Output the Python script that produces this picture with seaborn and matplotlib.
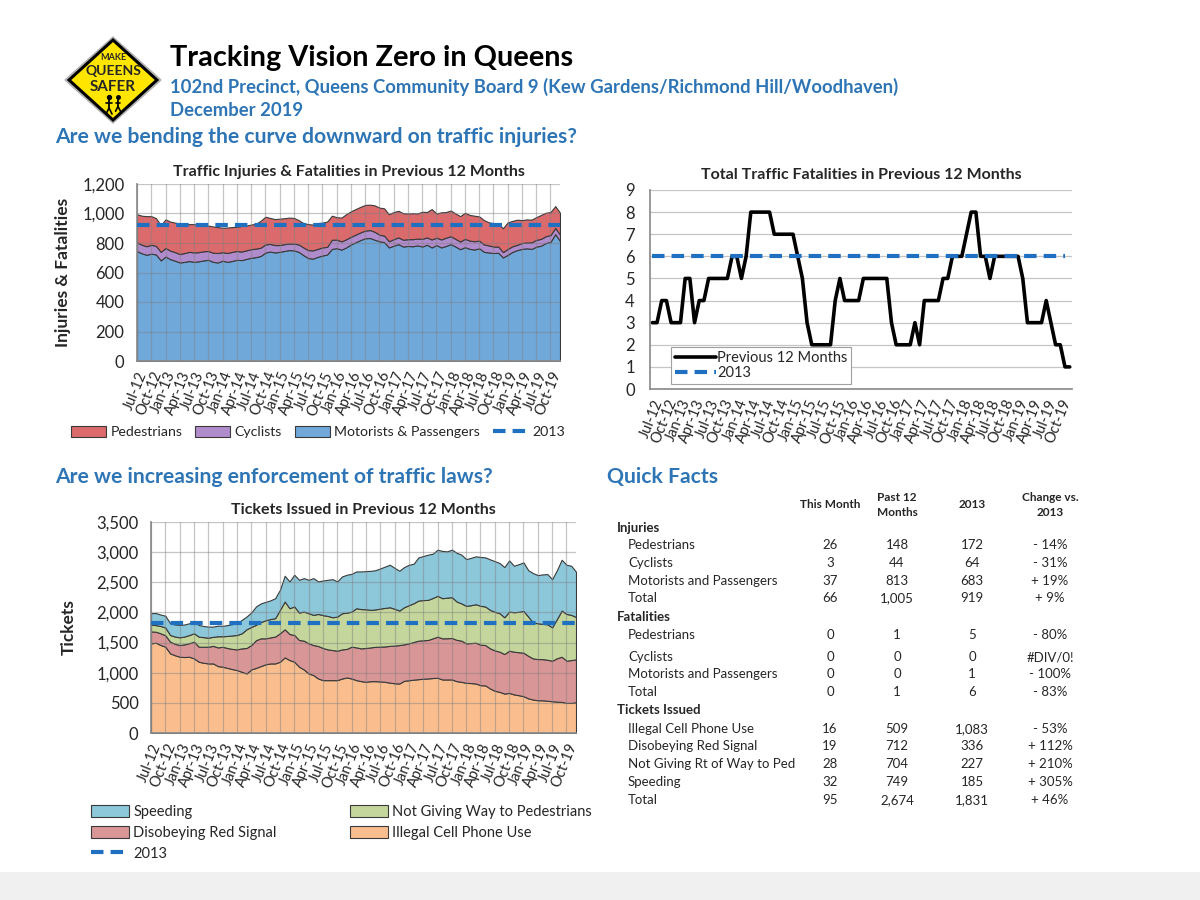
import numpy as np
import pandas as pd
import matplotlib
matplotlib.use("Agg")
import matplotlib.pyplot as plt
import seaborn as sns
from matplotlib.patches import Patch, Polygon, Rectangle
from matplotlib.lines import Line2D
from matplotlib.ticker import FuncFormatter

# -------------------------------
# Data (monthly, Jul-12 .. Dec-19, rolling 12 months)
# -------------------------------
months = pd.date_range("2012-07-01", periods=90, freq="MS").strftime("%b-%y").tolist()

motorists = [745, 730, 720, 728, 722, 682, 708, 690, 680, 668, 672, 678,
             672, 676, 682, 686, 672, 668, 680, 672, 678, 686, 684, 692,
             700, 704, 712, 735, 742, 736, 740, 746, 752, 750, 740, 718,
             698, 694, 706, 715, 722, 760, 765, 755, 770, 790, 805, 820,
             832, 834, 822, 812, 806, 770, 782, 792, 776, 780, 778, 784,
             776, 788, 770, 786, 770, 780, 792, 776, 758, 772, 760, 756,
             764, 740, 736, 732, 734, 702, 720, 740, 752, 760, 764, 760,
             775, 782, 800, 808, 860, 813]
cyclists = [60, 58, 58, 60, 58, 58, 58, 58, 58, 57, 60, 62,
            64, 62, 62, 60, 62, 64, 58, 60, 62, 60, 58, 58,
            58, 58, 56, 55, 52, 50, 46, 46, 45, 46, 50, 52,
            54, 56, 54, 55, 52, 62, 58, 56, 55, 52, 52, 52,
            52, 54, 54, 44, 44, 42, 44, 46, 46, 46, 48, 46,
            52, 50, 54, 50, 54, 56, 54, 52, 52, 56, 56, 56,
            52, 50, 48, 44, 42, 36, 40, 38, 36, 40, 40, 44,
            46, 46, 46, 46, 42, 44]
pedestrians = [190, 197, 204, 194, 188, 180, 194, 197, 200, 207, 193, 188,
               192, 182, 171, 172, 178, 176, 165, 173, 168, 164, 173, 168,
               167, 168, 182, 188, 176, 176, 179, 176, 175, 174, 165, 165,
               176, 175, 175, 168, 171, 163, 152, 161, 170, 173, 173, 173,
               174, 172, 179, 184, 185, 183, 184, 180, 180, 174, 176, 170,
               184, 172, 206, 164, 184, 174, 174, 172, 172, 177, 174, 173,
               164, 165, 156, 159, 154, 162, 180, 172, 170, 155, 156, 154,
               154, 162, 159, 156, 148, 148]
injuries_2013 = 919

fatalities = [3, 3, 4, 4, 3, 3, 3, 5, 5, 3,
              4, 4, 5, 5, 5, 5, 5, 6, 6, 5,
              6, 8, 8, 8, 8, 8, 7, 7, 7, 7,
              7, 6, 5, 3, 2, 2, 2, 2, 2, 4,
              5, 4, 4, 4, 4, 5, 5, 5, 5, 5,
              5, 3, 2, 2, 2, 2, 3, 2, 4, 4,
              4, 4, 5, 5, 6, 6, 6, 7, 8, 8,
              6, 6, 5, 6, 6, 6, 6, 6, 6, 5,
              3, 3, 3, 3, 4, 3, 2, 2, 1, 1]
fatalities_2013 = 6

cell_phone = [1487, 1498, 1459, 1432, 1321, 1290, 1265, 1260, 1265, 1237,
              1182, 1165, 1154, 1154, 1110, 1099, 1080, 1060, 1043, 1015,
              988, 1054, 1080, 1110, 1140, 1154, 1154, 1182, 1254, 1210,
              1182, 1099, 1054, 988, 960, 904, 877, 877, 877, 877,
              904, 921, 904, 877, 860, 850, 860, 860, 855, 849,
              835, 825, 821, 866, 875, 885, 893, 900, 905, 912,
              916, 888, 888, 888, 860, 849, 832, 828, 821, 793,
              790, 738, 700, 682, 654, 665, 640, 627, 610, 575,
              555, 543, 543, 535, 527, 520, 516, 499, 499, 509]
red_signal = [198, 182, 195, 188, 194, 190, 194, 210, 225, 278,
              250, 265, 278, 291, 310, 331, 330, 335, 344, 389,
              422, 406, 460, 460, 430, 431, 446, 472, 466, 432,
              444, 444, 478, 499, 499, 539, 533, 510, 499, 488,
              483, 474, 528, 543, 544, 560, 560, 570, 577, 587,
              610, 625, 638, 604, 612, 625, 639, 638, 638, 658,
              682, 682, 684, 688, 685, 683, 655, 664, 677, 672,
              669, 666, 670, 667, 656, 700, 709, 713, 722, 705,
              682, 683, 683, 680, 672, 720, 749, 700, 711, 712]
not_giving_way = [110, 110, 121, 130, 111, 120, 128, 130, 135, 139,
                  166, 160, 149, 150, 185, 175, 200, 223, 239, 250,
                  310, 300, 255, 270, 300, 305, 305, 388, 461, 428,
                  472, 455, 482, 500, 500, 532, 545, 555, 544, 566,
                  600, 600, 582, 650, 651, 643, 622, 620, 632, 639,
                  641, 610, 572, 616, 633, 643, 665, 667, 665, 670,
                  677, 666, 673, 677, 636, 618, 622, 628, 638, 645,
                  639, 638, 640, 638, 610, 649, 654, 670, 693, 650,
                  594, 594, 584, 589, 554, 650, 766, 776, 749, 704]
speeding = [192, 200, 190, 195, 194, 200, 205, 200, 195, 194,
            194, 185, 184, 170, 175, 173, 180, 187, 194, 222,
            211, 240, 305, 310, 305, 310, 331, 333, 427, 444,
            527, 543, 555, 554, 610, 539, 575, 599, 632, 583,
            610, 630, 626, 610, 625, 632, 648, 650, 666, 685,
            705, 680, 660, 666, 670, 655, 716, 730, 750, 734,
            766, 784, 768, 788, 809, 808, 776, 785, 794, 810,
            815, 838, 840, 832, 832, 849, 771, 790, 805, 770,
            821, 799, 820, 832, 799, 810, 843, 816, 815, 749]
tickets_2013 = 1831

# Quick facts table
table_labels = ["Injuries", "Pedestrians", "Cyclists", "Motorists and Passengers", "Total",
                "Fatalities", "Pedestrians", "Cyclists", "Motorists and Passengers", "Total",
                "Tickets Issued", "Illegal Cell Phone Use", "Disobeying Red Signal",
                "Not Giving Rt of Way to Ped", "Speeding", "Total"]
this_month = [None, 26, 3, 37, 66, None, 0, 0, 0, 0, None, 16, 19, 28, 32, 95]
past_12 = [None, 148, 44, 813, 1005, None, 1, 0, 0, 1, None, 509, 712, 704, 749, 2674]
year_2013 = [None, 172, 64, 683, 919, None, 5, 0, 1, 6, None, 1083, 336, 227, 185, 1831]
change_vs_2013 = ["", "- 14%", "- 31%", "+ 19%", "+ 9%", "", "- 80%", "#DIV/0!", "- 100%",
                  "- 83%", "", "- 53%", "+ 112%", "+ 210%", "+ 305%", "+ 46%"]
table_y = [528, 545, 563, 581, 598, 617, 635, 657, 674, 692, 710, 729, 746, 764, 782, 800]

# -------------------------------
# Style
# -------------------------------
sns.set_theme(style="white")
plt.rcParams["font.family"] = ["Lato", "DejaVu Sans"]

BLUE_HEAD = "#2e75b6"
DASH_BLUE = "#1f70c1"
EDGE = "#3a3a3a"
W, H = 1200, 900


def px(x, y):
    return x / W, 1 - y / H


def add_ax(fig, left, top, right, bottom):
    l, t = px(left, top)
    r, b = px(right, bottom)
    return fig.add_axes([l, b, r - l, t - b])


fig = plt.figure(figsize=(12, 9), dpi=100)
fig.patch.set_facecolor("white")
fig.patches.append(Rectangle((0, 0), 1, 28 / H, transform=fig.transFigure,
                             facecolor="#f0f0f0", edgecolor="none", zorder=0))

x = np.arange(len(months))
tick_pos = x[::3]
tick_lab = months[::3]
thousands = FuncFormatter(lambda v, p: f"{v:,.0f}")


def style_axis(ax, vgrid=True):
    for s in ["top", "right"]:
        ax.spines[s].set_visible(False)
    ax.spines["left"].set_color("#8c8c8c")
    ax.spines["bottom"].set_color("#8c8c8c")
    ax.set_xticks(tick_pos)
    ax.set_xticklabels(tick_lab, rotation=68, ha="right", rotation_mode="anchor", fontsize=10.5)
    ax.tick_params(axis="x", which="both", direction="out", length=4, color="#8c8c8c", pad=2)
    ax.tick_params(axis="y", labelsize=12, length=0, pad=9)
    ax.grid(axis="y", color="#7f7f7f", alpha=0.45, lw=0.9)
    if vgrid:
        ax.grid(axis="x", color="#7f7f7f", alpha=0.45, lw=0.9)
    ax.set_axisbelow(False)
    ax.set_xlabel("")


# -------------------------------
# Headings + logo
# -------------------------------
fig.text(*px(170, 58), "Tracking Vision Zero in Queens", fontsize=20.8, fontweight="bold",
         color="black", va="center")
fig.text(*px(170, 87), "102nd Precinct, Queens Community Board 9 (Kew Gardens/Richmond Hill/Woodhaven)",
         fontsize=13.3, fontweight="bold", color=BLUE_HEAD, va="center")
fig.text(*px(170, 110), "December 2019", fontsize=13.3, fontweight="bold", color=BLUE_HEAD, va="center")
fig.text(*px(55, 137), "Are we bending the curve downward on traffic injuries?", fontsize=15.2,
         fontweight="bold", color=BLUE_HEAD, va="center")
fig.text(*px(55, 477), "Are we increasing enforcement of traffic laws?", fontsize=15.2,
         fontweight="bold", color=BLUE_HEAD, va="center")
fig.text(*px(607, 477), "Quick Facts", fontsize=15.2, fontweight="bold", color=BLUE_HEAD, va="center")

logo = add_ax(fig, 64, 36, 162, 124)
logo.set_xlim(0, 98)
logo.set_ylim(88, 0)
logo.axis("off")
logo.add_patch(Polygon([(49, 1), (97, 44), (49, 87), (1, 44)], closed=True,
                       facecolor="#d0d0d0", edgecolor="#b0b0b0", lw=1))
logo.add_patch(Polygon([(49, 4), (93, 44), (49, 84), (5, 44)], closed=True,
                       facecolor="#ffe500", edgecolor="black", lw=2.2))
logo.text(49, 22, "MAKE", ha="center", va="center", fontsize=6.5, fontweight="bold")
logo.text(49, 35, "QUEENS", ha="center", va="center", fontsize=10, fontweight="bold")
logo.text(49, 51, "SAFER", ha="center", va="center", fontsize=11, fontweight="bold")
for cx, sc in [(45, 1.0), (54, 0.8)]:
    logo.plot([cx, cx], [64, 64 + 8 * sc], color="black", lw=1.3)
    logo.plot([cx - 3 * sc, cx, cx + 3 * sc], [64 + 14 * sc, 64 + 8 * sc, 64 + 14 * sc], color="black", lw=1.2)
    logo.plot([cx - 3 * sc, cx + 3 * sc], [67, 67], color="black", lw=1.2)
    logo.scatter([cx], [61], s=8 * sc, color="black")

# -------------------------------
# Chart 1: injuries stacked area
# -------------------------------
ax1 = add_ax(fig, 137, 184, 560, 361)
ax1.stackplot(x, motorists, cyclists, pedestrians,
              colors=["#70a8da", "#b18ccd", "#da6a6b"], edgecolor=EDGE, linewidth=0.8, zorder=1)
sns.lineplot(x=x, y=[injuries_2013] * len(x), ax=ax1, color=DASH_BLUE, lw=3,
             linestyle=(0, (3, 1.7)), zorder=4)
ax1.set_xlim(0, len(x) - 1)
ax1.set_ylim(0, 1200)
ax1.set_yticks(range(0, 1201, 200))
ax1.yaxis.set_major_formatter(thousands)
style_axis(ax1)
ax1.set_title("Traffic Injuries & Fatalities in Previous 12 Months", fontsize=11.5,
              fontweight="bold", pad=6)
ax1.set_ylabel("Injuries & Fatalities", fontsize=12.5, fontweight="bold", labelpad=8)

h1 = [Patch(facecolor="#da6a6b", edgecolor=EDGE, lw=0.8),
      Patch(facecolor="#b18ccd", edgecolor=EDGE, lw=0.8),
      Patch(facecolor="#70a8da", edgecolor=EDGE, lw=0.8),
      Line2D([], [], color=DASH_BLUE, lw=3, linestyle=(0, (3, 1.7)))]
fig.legend(h1, ["Pedestrians", "Cyclists", "Motorists & Passengers", "2013"],
           loc="center", bbox_to_anchor=px(318, 432), ncol=4, frameon=False, fontsize=10.2,
           handlelength=2.5, handleheight=0.9, handletextpad=0.3, columnspacing=0.9)

# -------------------------------
# Chart 2: fatalities line
# -------------------------------
ax2 = add_ax(fig, 650, 190, 1072, 389)
sns.lineplot(x=x, y=fatalities, ax=ax2, color="black", lw=2.6, label="Previous 12 Months")
sns.lineplot(x=x[:-1], y=[fatalities_2013] * (len(x) - 1), ax=ax2, color=DASH_BLUE, lw=3,
             linestyle=(0, (3, 1.7)), label="2013")
ax2.set_xlim(-0.5, len(x) - 0.5)
ax2.set_ylim(0, 9)
ax2.set_yticks(range(0, 10))
style_axis(ax2, vgrid=False)
ax2.tick_params(axis="y", pad=11)
ax2.set_axisbelow(True)
ax2.set_title("Total Traffic Fatalities in Previous 12 Months", fontsize=11.5,
              fontweight="bold", pad=8)
ax2.set_ylabel("")
leg2 = ax2.legend(loc="lower left", bbox_to_anchor=(0.05, 0.025), borderaxespad=0, fontsize=10.5,
                  fancybox=False, edgecolor="#a0a0a0", framealpha=1, handlelength=2.8,
                  handletextpad=0.1, borderpad=0.25, labelspacing=0.1)
leg2.get_frame().set_linewidth(0.8)

# -------------------------------
# Chart 3: tickets stacked area
# -------------------------------
ax3 = add_ax(fig, 151, 522, 576, 733)
ax3.stackplot(x, cell_phone, red_signal, not_giving_way, speeding,
              colors=["#fabe8e", "#d99696", "#c4d69b", "#8cc8da"], edgecolor=EDGE,
              linewidth=0.8, zorder=1)
sns.lineplot(x=x, y=[tickets_2013] * len(x), ax=ax3, color=DASH_BLUE, lw=3,
             linestyle=(0, (3, 1.7)), zorder=4)
ax3.set_xlim(0, len(x) - 1)
ax3.set_ylim(0, 3500)
ax3.set_yticks(range(0, 3501, 500))
ax3.yaxis.set_major_formatter(thousands)
style_axis(ax3)
ax3.set_title("Tickets Issued in Previous 12 Months", fontsize=11.5, fontweight="bold", pad=6)
ax3.set_ylabel("Tickets", fontsize=12.5, fontweight="bold", labelpad=14)

h3 = [Patch(facecolor="#8cc8da", edgecolor=EDGE, lw=0.8),
      Patch(facecolor="#d99696", edgecolor=EDGE, lw=0.8),
      Line2D([], [], color=DASH_BLUE, lw=3, linestyle=(0, (3, 1.7))),
      Patch(facecolor="#c4d69b", edgecolor=EDGE, lw=0.8),
      Patch(facecolor="#fabe8e", edgecolor=EDGE, lw=0.8)]
fig.legend(h3, ["Speeding", "Disobeying Red Signal", "2013",
                "Not Giving Way to Pedestrians", "Illegal Cell Phone Use"],
           loc="upper left", bbox_to_anchor=px(78, 792), ncol=2, frameon=False, fontsize=10.5,
           handlelength=2.6, handleheight=0.9, handletextpad=0.3, columnspacing=5.0,
           labelspacing=0.45)

# -------------------------------
# Quick facts table
# -------------------------------
col_x = [830, 897, 972, 1050]
fig.text(*px(col_x[0], 505), "This Month", fontsize=8.5, fontweight="bold", ha="center", va="center")
fig.text(*px(col_x[1], 505), "Past 12\nMonths", fontsize=8.5, fontweight="bold", ha="center",
         va="center", linespacing=1.5)
fig.text(*px(col_x[2], 505), "2013", fontsize=8.5, fontweight="bold", ha="center", va="center")
fig.text(*px(col_x[3], 505), "Change vs.\n2013", fontsize=8.5, fontweight="bold", ha="center",
         va="center", linespacing=1.5)


def fmt(v):
    return "" if v is None else f"{v:,}"


for i, lab in enumerate(table_labels):
    yy = table_y[i]
    if this_month[i] is None:
        fig.text(*px(617, yy), lab, fontsize=9.5, fontweight="bold", va="center")
        continue
    fig.text(*px(628, yy), lab, fontsize=9.5, va="center")
    for cx, val in zip(col_x, [fmt(this_month[i]), fmt(past_12[i]), fmt(year_2013[i]), change_vs_2013[i]]):
        fig.text(*px(cx, yy), val, fontsize=9.5, ha="center", va="center")

fig.savefig("out.png", dpi=100, facecolor="white")
